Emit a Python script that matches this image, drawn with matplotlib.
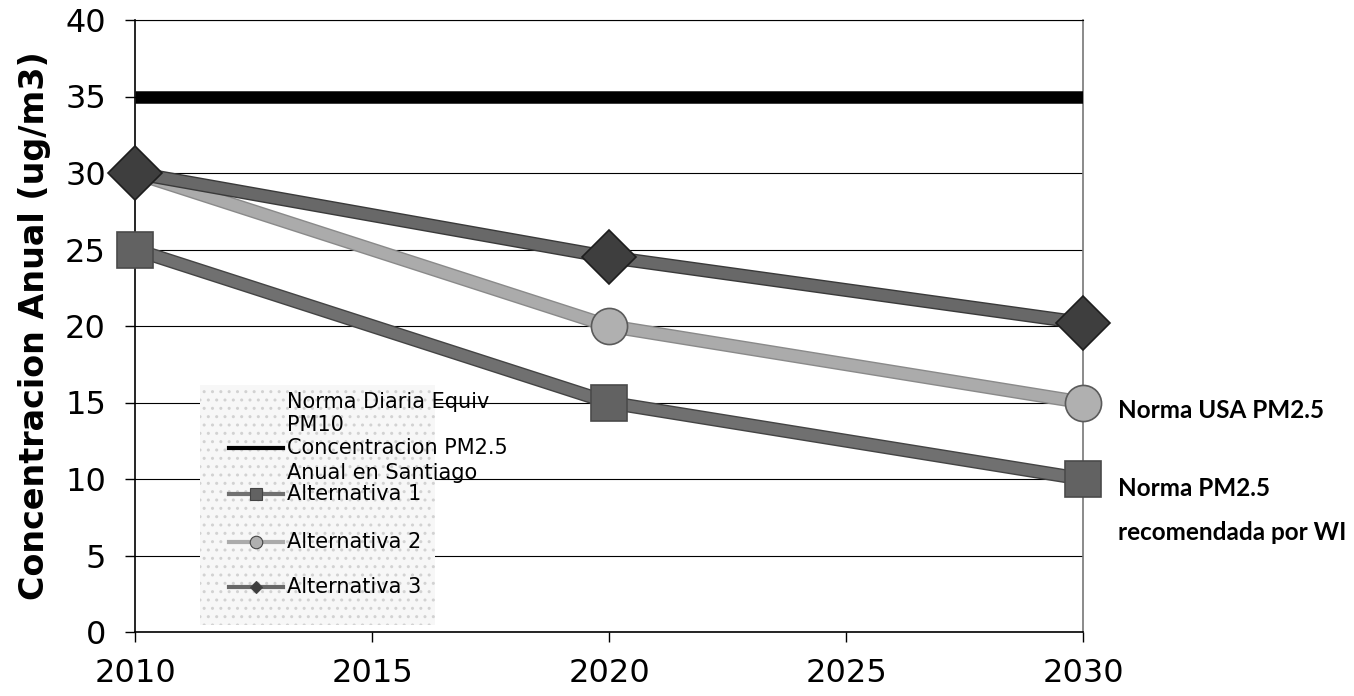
import matplotlib
matplotlib.use("Agg")
import matplotlib.pyplot as plt
from matplotlib.patches import Rectangle
from matplotlib.lines import Line2D
import matplotlib.patheffects as pe

years = [2010, 2020, 2030]
norma_pm10 = [35, 35, 35]
alt1 = [25, 15, 10]
alt2 = [30, 20, 15]
alt3 = [30, 24.5, 20.2]
x_ticks = [2010, 2015, 2020, 2025, 2030]
y_ticks = [0, 5, 10, 15, 20, 25, 30, 35, 40]
ylabel = "Concentracion Anual (ug/m3)"
legend_lines = ["Norma Diaria Equiv", "PM10", "Concentracion PM2.5", "Anual en Santiago"]
legend_alts = ["Alternativa 1", "Alternativa 2", "Alternativa 3"]
notes = ["Norma USA PM2.5", "Norma PM2.5", "recomendada por WI"]

W, H = 1354, 696
fig = plt.figure(figsize=(W / 100, H / 100), dpi=100)
fig.patch.set_facecolor("white")

def fx(px):
    return px / W

def fy(py):
    return 1 - py / H

L, R, T, B = 135, 1083, 20, 632
ax = fig.add_axes([fx(L), fy(B), fx(R) - fx(L), fy(T) - fy(B)])
ax.set_xlim(2010, 2030)
ax.set_ylim(0, 40)
ax.set_xticks(x_ticks)
ax.set_yticks(y_ticks)
ax.tick_params(axis="both", direction="out", length=7, width=1, labelsize=23, colors="black")
ax.tick_params(axis="y", pad=14)
ax.tick_params(axis="x", pad=12)
ax.yaxis.grid(True, color="black", linewidth=0.8)
ax.set_axisbelow(True)
for s in ["left", "bottom"]:
    ax.spines[s].set_color("black")
    ax.spines[s].set_linewidth(1.2)
ax.spines["top"].set_color("black")
ax.spines["top"].set_linewidth(0.8)
ax.spines["right"].set_color("#777777")
ax.spines["right"].set_linewidth(1.2)

ax.set_ylabel(ylabel, fontsize=24, fontweight="bold", labelpad=10)

# Legend background (stippled)
leg_bg = Rectangle((fx(200), fy(625)), fx(435) - fx(200), fy(385) - fy(625),
                   transform=fig.transFigure, facecolor="#f7f7f7", edgecolor="#d2d2d2",
                   hatch="..", linewidth=0, zorder=1)
ax.add_artist(leg_bg)

def stroke(c):
    return [pe.Stroke(linewidth=10, foreground=c), pe.Normal()]

ax.plot(years, norma_pm10, color="black", linewidth=9, solid_capstyle="butt", zorder=3)

series = [
    (alt2, "#ababab", "#8a8a8a", "o", 26, "#b0b0b0", "#5a5a5a", 4),
    (alt3, "#686868", "#3a3a3a", "D", 27, "#3e3e3e", "#1e1e1e", 5),
    (alt1, "#707070", "#444444", "s", 26, "#626262", "#4a4a4a", 6),
]
for vals, lc, ec, mk, ms, mfc, mec, z in series:
    ln, = ax.plot(years, vals, color=lc, linewidth=8, path_effects=stroke(ec),
                  solid_capstyle="butt", zorder=z)
    mk_ln, = ax.plot(years, vals, linestyle="none", marker=mk, markersize=ms,
                     markerfacecolor=mfc, markeredgecolor=mec, markeredgewidth=1.2,
                     zorder=z + 0.5)
    ln.set_clip_on(False)
    mk_ln.set_clip_on(False)

# Manual legend
tx = 287
rows = [402, 425, 448, 473]
for txt, py in zip(legend_lines, rows):
    fig.text(fx(tx), fy(py), txt, fontsize=15, va="center", ha="left", zorder=10)
fig.add_artist(Line2D([fx(229), fx(283)], [fy(448), fy(448)], color="black", linewidth=3))
alt_rows = [494, 542, 587]
alt_styles = [("#707070", "s", "#626262", 9), ("#ababab", "o", "#b0b0b0", 9), ("#686868", "D", "#3e3e3e", 6)]
for txt, py, (lc, mk, mfc, ms) in zip(legend_alts, alt_rows, alt_styles):
    fig.add_artist(Line2D([fx(229), fx(283)], [fy(py), fy(py)], color=lc, linewidth=3))
    fig.add_artist(Line2D([fx(256)], [fy(py)], marker=mk, markersize=ms,
                          markerfacecolor=mfc, markeredgecolor="#444444", markeredgewidth=0.8,
                          linestyle="none"))
    fig.text(fx(tx), fy(py), txt, fontsize=15, va="center", ha="left")

# Right-side notes
for txt, py in zip(notes, [410, 488, 532]):
    fig.text(fx(1118), fy(py), txt, fontsize=17.5, fontweight="bold", family="Lato",
             va="center", ha="left")

fig.savefig("out.png", dpi=100, facecolor="white")
